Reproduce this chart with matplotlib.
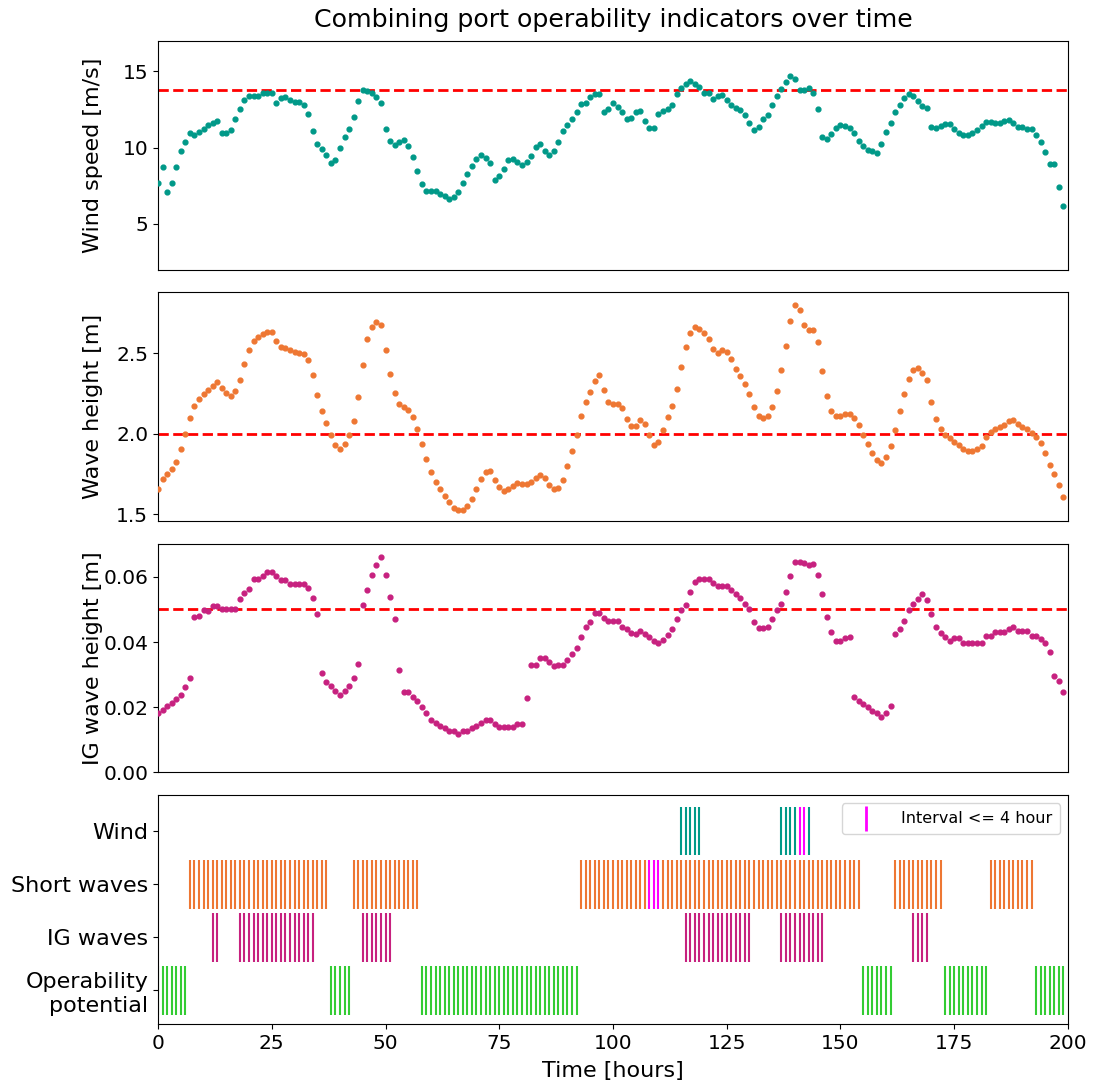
import matplotlib
matplotlib.use("Agg")
import matplotlib.pyplot as plt
from matplotlib.lines import Line2D
import numpy as np

# hourly series (hours 0..199)
hours = np.arange(200)

wind_speed = [
    7.71, 8.74, 7.06, 7.69, 8.76, 9.77, 10.40, 10.97, 10.86, 11.06,
    11.21, 11.46, 11.63, 11.74, 10.97, 10.97, 11.17, 11.87, 12.53, 13.10,
    13.36, 13.42, 13.38, 13.56, 13.60, 13.58, 12.96, 13.27, 13.34, 13.14,
    13.01, 13.01, 12.81, 12.24, 11.10, 10.23, 9.88, 9.51, 9.00, 9.20,
    9.99, 10.71, 11.21, 12.02, 13.07, 13.78, 13.69, 13.58, 13.34, 12.90,
    11.21, 10.43, 10.19, 10.36, 10.49, 10.10, 9.38, 8.50, 7.63, 7.17,
    7.17, 7.17, 6.99, 6.82, 6.60, 6.73, 7.08, 7.71, 8.26, 8.79,
    9.25, 9.49, 9.35, 9.00, 7.91, 8.15, 8.59, 9.16, 9.27, 9.05,
    8.89, 9.07, 9.44, 10.05, 10.21, 9.79, 9.49, 9.79, 10.34, 11.08,
    11.46, 11.91, 12.37, 12.86, 12.94, 13.32, 13.49, 13.51, 12.35, 12.55,
    12.90, 12.70, 12.33, 11.89, 11.94, 12.37, 12.40, 11.78, 11.26, 11.26,
    12.22, 12.42, 12.53, 12.79, 13.49, 13.91, 14.21, 14.39, 14.17, 13.95,
    13.60, 13.56, 13.21, 13.36, 13.47, 13.10, 12.77, 12.61, 12.48, 12.16,
    11.63, 11.19, 11.35, 11.85, 12.16, 12.77, 13.40, 13.85, 14.28, 14.69,
    14.50, 13.76, 13.76, 13.91, 13.58, 12.51, 10.73, 10.56, 10.91, 11.28,
    11.46, 11.43, 11.28, 10.93, 10.45, 10.12, 9.84, 9.75, 9.62, 10.23,
    11.00, 11.61, 12.33, 12.81, 13.27, 13.53, 13.40, 13.03, 12.75, 12.61,
    11.35, 11.28, 11.41, 11.54, 11.52, 11.21, 10.93, 10.80, 10.82, 10.97,
    11.13, 11.43, 11.70, 11.67, 11.63, 11.63, 11.76, 11.83, 11.61, 11.35,
    11.35, 11.24, 11.21, 10.86, 10.34, 9.73, 8.94, 8.94, 7.39, 6.20,
]

wave_height = [
    1.654, 1.720, 1.747, 1.778, 1.826, 1.903, 1.996, 2.101, 2.176, 2.219,
    2.246, 2.273, 2.300, 2.321, 2.288, 2.253, 2.236, 2.269, 2.337, 2.433,
    2.520, 2.580, 2.605, 2.619, 2.631, 2.634, 2.576, 2.542, 2.532, 2.520,
    2.509, 2.503, 2.499, 2.458, 2.366, 2.240, 2.139, 2.066, 1.992, 1.928,
    1.905, 1.934, 1.994, 2.081, 2.230, 2.429, 2.592, 2.667, 2.694, 2.677,
    2.524, 2.375, 2.255, 2.188, 2.168, 2.149, 2.104, 2.027, 1.934, 1.843,
    1.764, 1.702, 1.656, 1.613, 1.573, 1.538, 1.524, 1.526, 1.553, 1.594,
    1.656, 1.720, 1.760, 1.768, 1.712, 1.667, 1.642, 1.654, 1.675, 1.692,
    1.689, 1.689, 1.700, 1.725, 1.741, 1.727, 1.683, 1.658, 1.663, 1.712,
    1.799, 1.890, 1.994, 2.110, 2.199, 2.261, 2.327, 2.364, 2.273, 2.199,
    2.186, 2.188, 2.161, 2.093, 2.046, 2.050, 2.083, 2.062, 1.992, 1.928,
    1.948, 2.025, 2.104, 2.174, 2.277, 2.416, 2.540, 2.629, 2.663, 2.650,
    2.625, 2.590, 2.528, 2.505, 2.520, 2.507, 2.466, 2.406, 2.358, 2.308,
    2.246, 2.168, 2.112, 2.097, 2.112, 2.166, 2.269, 2.400, 2.547, 2.704,
    2.803, 2.768, 2.677, 2.644, 2.646, 2.571, 2.389, 2.236, 2.139, 2.108,
    2.108, 2.122, 2.122, 2.099, 2.052, 1.994, 1.934, 1.882, 1.834, 1.820,
    1.855, 1.923, 2.025, 2.139, 2.248, 2.344, 2.400, 2.410, 2.379, 2.333,
    2.199, 2.095, 2.029, 1.994, 1.971, 1.952, 1.928, 1.907, 1.896, 1.896,
    1.905, 1.923, 1.983, 2.012, 2.027, 2.041, 2.054, 2.077, 2.087, 2.064,
    2.043, 2.031, 2.008, 1.981, 1.940, 1.880, 1.807, 1.747, 1.683, 1.607,
]

ig_height = [
    0.0182, 0.0191, 0.0203, 0.0213, 0.0225, 0.0239, 0.0263, 0.0291, 0.0477, 0.0481,
    0.0497, 0.0495, 0.0510, 0.0510, 0.0500, 0.0500, 0.0500, 0.0500, 0.0533, 0.0551,
    0.0563, 0.0594, 0.0594, 0.0602, 0.0615, 0.0615, 0.0602, 0.0591, 0.0591, 0.0578,
    0.0578, 0.0578, 0.0578, 0.0566, 0.0534, 0.0486, 0.0305, 0.0277, 0.0264, 0.0250,
    0.0239, 0.0251, 0.0264, 0.0291, 0.0332, 0.0515, 0.0561, 0.0605, 0.0636, 0.0660,
    0.0606, 0.0539, 0.0471, 0.0313, 0.0246, 0.0246, 0.0232, 0.0219, 0.0201, 0.0182,
    0.0161, 0.0153, 0.0144, 0.0136, 0.0127, 0.0127, 0.0119, 0.0127, 0.0127, 0.0135,
    0.0143, 0.0153, 0.0161, 0.0161, 0.0149, 0.0141, 0.0141, 0.0141, 0.0141, 0.0148,
    0.0149, 0.0229, 0.0330, 0.0330, 0.0352, 0.0352, 0.0338, 0.0326, 0.0331, 0.0331,
    0.0344, 0.0363, 0.0383, 0.0414, 0.0446, 0.0463, 0.0488, 0.0488, 0.0474, 0.0465,
    0.0465, 0.0465, 0.0447, 0.0439, 0.0428, 0.0424, 0.0434, 0.0424, 0.0415, 0.0404,
    0.0398, 0.0407, 0.0423, 0.0439, 0.0471, 0.0497, 0.0515, 0.0554, 0.0583, 0.0594,
    0.0594, 0.0594, 0.0582, 0.0572, 0.0572, 0.0572, 0.0561, 0.0548, 0.0534, 0.0517,
    0.0502, 0.0463, 0.0444, 0.0444, 0.0446, 0.0470, 0.0497, 0.0518, 0.0553, 0.0603,
    0.0647, 0.0647, 0.0643, 0.0635, 0.0639, 0.0606, 0.0548, 0.0477, 0.0432, 0.0402,
    0.0402, 0.0411, 0.0417, 0.0233, 0.0219, 0.0209, 0.0200, 0.0190, 0.0182, 0.0169,
    0.0182, 0.0203, 0.0424, 0.0439, 0.0464, 0.0498, 0.0517, 0.0533, 0.0546, 0.0530,
    0.0485, 0.0447, 0.0429, 0.0414, 0.0404, 0.0411, 0.0411, 0.0396, 0.0396, 0.0396,
    0.0396, 0.0396, 0.0419, 0.0419, 0.0430, 0.0430, 0.0430, 0.0440, 0.0447, 0.0434,
    0.0434, 0.0434, 0.0420, 0.0420, 0.0410, 0.0396, 0.0370, 0.0297, 0.0280, 0.0248,
]

wind_limit = 13.8
wave_limit = 2.0
ig_limit = 0.05

# hours flagged in the bottom panel, as (first, last) blocks
wind_blocks = [(115, 119), (137, 140), (143, 143)]
wave_blocks = [(7, 37), (43, 57), (93, 107), (111, 154), (162, 172), (183, 192)]
ig_blocks = [(12, 13), (18, 34), (45, 51), (116, 130), (137, 146), (166, 169)]
oper_blocks = [(0, 6), (38, 42), (58, 92), (155, 161), (173, 182), (193, 199)]
short_gap_hours = [[141, 142], [108, 109, 110], [], []]

row_labels = ['Wind', 'Short waves', 'IG waves', 'Operability\npotential']
row_colors = ['#009988', '#EE7733', '#C7217F', '#33CC33']


def expand(blocks):
    out = []
    for a, b in blocks:
        out.extend(range(a, b + 1))
    return out


plt.rcParams['font.family'] = 'DejaVu Sans'
plt.rcParams['font.size'] = 16

fig, axes = plt.subplots(4, 1, figsize=(11.02, 10.9), dpi=100, sharex=True,
                         gridspec_kw=dict(left=0.1434, right=0.9691, top=0.9624,
                                          bottom=0.0606, hspace=0.1))
ax1, ax2, ax3, ax4 = axes

ax1.scatter(hours, wind_speed, s=12, color=row_colors[0], zorder=3)
ax1.axhline(wind_limit, color='red', ls='--', lw=2)
ax1.set_ylim(2, 17)
ax1.set_yticks([5, 10, 15])
ax1.set_ylabel('Wind speed [m/s]')
ax1.set_title('Combining port operability indicators over time', fontsize=18.2, pad=10)

ax2.scatter(hours, wave_height, s=12, color=row_colors[1], zorder=3)
ax2.axhline(wave_limit, color='red', ls='--', lw=2)
ax2.set_ylim(1.457, 2.88)
ax2.set_yticks([1.5, 2.0, 2.5])
ax2.set_ylabel('Wave height [m]')

ax3.scatter(hours, ig_height, s=12, color=row_colors[2], zorder=3)
ax3.axhline(ig_limit, color='red', ls='--', lw=2)
ax3.set_ylim(0, 0.0701)
ax3.set_yticks([0.0, 0.02, 0.04, 0.06])
ax3.set_yticklabels(['0.00', '0.02', '0.04', '0.06'])
ax3.set_ylabel('IG wave height [m]')

for ax in (ax1, ax2, ax3):
    ax.tick_params(bottom=False, labelbottom=False, labelsize=14.5)
    ax.yaxis.set_label_coords(-0.06, 0.5)

events = [expand(wind_blocks), expand(wave_blocks), expand(ig_blocks), expand(oper_blocks)]
offsets = [3, 2, 1, 0]
ax4.eventplot(events, lineoffsets=offsets, linelengths=0.92, linewidths=1.5,
              colors=row_colors)
gap_rows = [(g, o) for g, o in zip(short_gap_hours, offsets) if g]
ax4.eventplot([g for g, o in gap_rows], lineoffsets=[o for g, o in gap_rows],
              linelengths=0.92, linewidths=1.5, colors='magenta')
ax4.set_ylim(-0.63, 3.67)
ax4.set_yticks(offsets)
ax4.set_yticklabels(row_labels)
ax4.set_xlim(0, 200)
ax4.set_xticks([0, 25, 50, 75, 100, 125, 150, 175, 200])
ax4.tick_params(axis='x', labelsize=14.5)
ax4.set_xlabel('Time [hours]', labelpad=6)

handle = Line2D([], [], color='magenta', marker='|', ls='None', ms=18, mew=2)
ax4.legend([handle], ['Interval <= 4 hour'], loc='upper right', fontsize=11.5,
           handletextpad=1.2, borderaxespad=0.5, borderpad=0.5)

fig.savefig('out.png', dpi=100)
